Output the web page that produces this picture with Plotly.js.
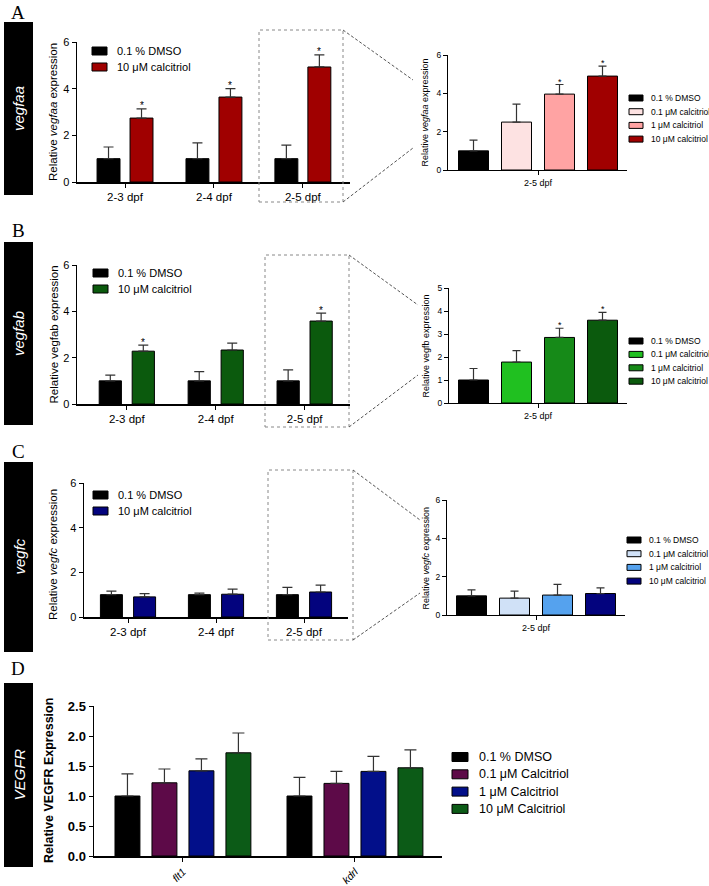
<!DOCTYPE html>
<html>
<head>
<meta charset="utf-8">
<script src="https://cdn.plot.ly/plotly-3.0.1.min.js"></script>
<style>
  html, body { margin: 0; padding: 0; background: #fff; }
  #myDiv { width: 709px; height: 886px; }
</style>
</head>
<body>
<div id="myDiv"></div>
<script>
// Datos del grafico
var dayLabels = ['2-3 dpf', '2-4 dpf', '2-5 dpf'];
var zoomLabels = ['2-5 dpf'];
var receptorLabels = ['<i>flt1</i>', '<i>kdrl</i>'];

var twoNames = ['0.1 % DMSO', '10 μM calcitriol'];
var doseNames = ['0.1 % DMSO', '0.1 μM calcitriol', '1 μM calcitriol', '10 μM calcitriol'];
var doseNamesD = ['0.1 % DMSO', '0.1 μM Calcitriol', '1 μM Calcitriol', '10 μM Calcitriol'];

// A - vegfaa
var vegfaaDmso = [1, 1, 1];
var vegfaaDmsoErr = [0.5, 0.68, 0.58];
var vegfaaCalc = [2.74, 3.64, 4.93];
var vegfaaCalcErr = [0.39, 0.36, 0.52];
var vegfaaCalcSig = [1, 1, 1];
var vegfaaDose = [1, 2.5, 3.96, 4.9];
var vegfaaDoseErr = [0.56, 0.94, 0.5, 0.52];
var vegfaaDoseSig = [0, 0, 1, 1];

// B - vegfab
var vegfabDmso = [1, 1, 1];
var vegfabDmsoErr = [0.25, 0.4, 0.47];
var vegfabCalc = [2.28, 2.33, 3.58];
var vegfabCalcErr = [0.26, 0.3, 0.34];
var vegfabCalcSig = [1, 0, 1];
var vegfbDose = [1, 1.78, 2.85, 3.6];
var vegfbDoseErr = [0.5, 0.5, 0.4, 0.34];
var vegfbDoseSig = [0, 0, 1, 1];

// C - vegfc
var vegfcDmso = [1, 1, 1];
var vegfcDmsoErr = [0.16, 0.07, 0.33];
var vegfcCalc = [0.9, 1.02, 1.12];
var vegfcCalcErr = [0.15, 0.23, 0.31];
var vegfcCalcSig = [0, 0, 0];
var vegfcDose = [1, 0.88, 1.04, 1.12];
var vegfcDoseErr = [0.31, 0.37, 0.56, 0.3];
var vegfcDoseSig = [0, 0, 0, 0];

// D - VEGFR (flt1, kdrl)
var vegfrDmso = [1, 1];
var vegfrDmsoErr = [0.37, 0.31];
var vegfr01 = [1.22, 1.21];
var vegfr01Err = [0.23, 0.2];
var vegfr1 = [1.42, 1.41];
var vegfr1Err = [0.2, 0.25];
var vegfr10 = [1.72, 1.47];
var vegfr10Err = [0.33, 0.3];

// Colores
var redCols = ['#000000', '#fde2e2', '#ffa3a3', '#a00000'];
var greenCols = ['#000000', '#20c020', '#168a18', '#0b5a0d'];
var blueCols = ['#000000', '#d0e1f7', '#55a2ee', '#03037e'];
var dCols = ['#000000', '#5d0a48', '#020f8a', '#0c5b17'];

var W = 709, H = 886;
var FONT = 'Liberation Sans, Arial, sans-serif';
function px(x) { return x / W; }
function py(y) { return 1 - y / H; }

var data = [];
var layout = {
    width: W,
    height: H,
    margin: { l: 0, r: 0, t: 0, b: 0 },
    paper_bgcolor: '#ffffff',
    plot_bgcolor: 'rgba(0,0,0,0)',
    showlegend: false,
    barmode: 'overlay',
    font: { family: FONT, color: '#000' },
    shapes: [],
    annotations: []
};

///////////////////////
// FUNCIONES DE PLOT //
///////////////////////

function makeAxes(p) {
    layout['xaxis' + p.id] = {
        domain: [px(p.x0), px(p.x1)],
        range: p.xr,
        anchor: 'y' + p.id,
        tickmode: 'array',
        tickvals: p.ticks.map(function (t, i) { return i; }),
        ticktext: p.ticks,
        tickangle: p.tickangle || 0,
        ticks: 'outside', ticklen: 4, tickwidth: 1, tickcolor: '#000',
        showline: true, linecolor: '#000', linewidth: p.lw,
        showgrid: false, zeroline: false, fixedrange: true,
        tickfont: { size: p.xfont, family: FONT, color: '#000' }
    };
    layout['yaxis' + p.id] = {
        domain: [py(p.y1), py(p.y0)],
        range: [0, p.ymax],
        anchor: 'x' + p.id,
        dtick: p.dtick,
        tickformat: p.tickformat || '',
        ticks: 'outside', ticklen: 4, tickwidth: 1, tickcolor: '#000',
        showline: true, linecolor: '#000', linewidth: p.lw,
        showgrid: false, zeroline: false, fixedrange: true,
        tickfont: { size: p.yfont, family: FONT, color: '#000', weight: p.bold ? 'bold' : 'normal' }
    };
    layout.annotations.push({
        xref: 'paper', yref: 'paper',
        x: px(p.titleX), y: py((p.y0 + p.y1) / 2 + (p.titleDy || 0)),
        text: p.title, textangle: -90, showarrow: false,
        xanchor: 'center', yanchor: 'middle',
        font: { size: p.titleSize, family: FONT, color: '#000', weight: p.bold ? 'bold' : 'normal' }
    });
}

function makeBars(p, series) {
    var n = series.length;
    series.forEach(function (s, j) {
        var off = (j - n / 2) * p.slot + (p.slot - p.barw) / 2;
        var xs = s.y.map(function (v, i) { return i; });
        data.push({
            type: 'bar',
            name: s.name,
            x: xs,
            y: s.y,
            offset: off,
            width: p.barw,
            xaxis: 'x' + p.id,
            yaxis: 'y' + p.id,
            marker: { color: s.color, line: { color: '#000', width: 1 } },
            error_y: {
                type: 'data', symmetric: false, array: s.err,
                arrayminus: s.err.map(function () { return 0; }),
                color: '#333', thickness: 1.2, width: p.errW
            },
            hoverinfo: 'skip'
        });
        if (s.sig) {
            s.sig.forEach(function (f, i) {
                if (!f) return;
                layout.annotations.push({
                    xref: 'x' + p.id, yref: 'y' + p.id,
                    x: i + off + p.barw / 2, y: s.y[i] + s.err[i],
                    text: '*', showarrow: false,
                    xanchor: 'center', yanchor: 'middle', yshift: p.starShift,
                    font: { size: p.starSize, family: FONT, color: '#000' }
                });
            });
        }
    });
    // leyenda manual
    var L = p.legend;
    series.forEach(function (s, j) {
        var yc = L.y + j * L.step;
        layout.shapes.push({
            type: 'rect', xref: 'paper', yref: 'paper',
            x0: px(L.x), x1: px(L.x + L.w), y0: py(yc - L.h / 2), y1: py(yc + L.h / 2),
            fillcolor: s.color, line: { color: '#000', width: 1 }
        });
        layout.annotations.push({
            xref: 'paper', yref: 'paper', x: px(L.tx), y: py(yc),
            text: s.name, showarrow: false, xanchor: 'left', yanchor: 'middle',
            font: { size: L.size, family: FONT, color: '#000' }
        });
    });
}

function sideLabel(letter, ly, text, r0, r1, size) {
    layout.shapes.push({
        type: 'rect', xref: 'paper', yref: 'paper',
        x0: px(4), x1: px(33), y0: py(r1), y1: py(r0),
        fillcolor: '#000', line: { width: 0 }
    });
    layout.annotations.push({
        xref: 'paper', yref: 'paper', x: px(18.5), y: py((r0 + r1) / 2),
        text: '<i>' + text + '</i>', textangle: -90, showarrow: false,
        xanchor: 'center', yanchor: 'middle',
        font: { size: size, family: FONT, color: '#fff' }
    });
    layout.annotations.push({
        xref: 'paper', yref: 'paper', x: px(18), y: py(ly),
        text: letter, showarrow: false, xanchor: 'center', yanchor: 'middle',
        font: { size: 19, family: 'Liberation Serif, Times New Roman, serif', color: '#000' }
    });
}

function zoomBox(x0, y0, x1, y1, ux, uy, lx, ly) {
    layout.shapes.push({
        type: 'rect', xref: 'paper', yref: 'paper',
        x0: px(x0), x1: px(x1), y0: py(y1), y1: py(y0),
        line: { color: '#888', width: 1, dash: 'dot' }
    });
    layout.shapes.push({
        type: 'line', xref: 'paper', yref: 'paper',
        x0: px(x1), y0: py(y0), x1: px(ux), y1: py(uy),
        line: { color: '#555', width: 1, dash: '3px,2px' }
    });
    layout.shapes.push({
        type: 'line', xref: 'paper', yref: 'paper',
        x0: px(x1), y0: py(y1), x1: px(lx), y1: py(ly),
        line: { color: '#555', width: 1, dash: '3px,2px' }
    });
}

// Paneles de la izquierda (3 dias) y derecha (2-5 dpf)
function leftPanel(id, y0, y1, x0, x1, xr, title, legY, legX, slot, barw) {
    return {
        id: id, x0: x0, x1: x1, y0: y0, y1: y1, xr: xr, ymax: 6, dtick: 2,
        ticks: dayLabels, slot: slot, barw: barw, lw: 1.5, errW: 5,
        xfont: 11.5, yfont: 11, title: title, titleX: 53, titleSize: 11.5,
        starShift: 3, starSize: 10,
        legend: { x: legX, w: 15, h: 8, tx: legX + 23, y: legY, step: 16, size: 11 }
    };
}
function rightPanel(id, y0, y1, x0, x1, xr, ymax, dtick, title, legY, legX, step) {
    return {
        id: id, x0: x0, x1: x1, y0: y0, y1: y1, xr: xr, ymax: ymax, dtick: dtick,
        ticks: zoomLabels, slot: 0.43, barw: 0.30, lw: 1, errW: 4,
        xfont: 9, yfont: 8.5, title: title, titleX: 425, titleSize: 9,
        starShift: 3, starSize: 9,
        legend: { x: legX, w: 14, h: 6, tx: legX + 20, y: legY, step: step, size: 8.5 }
    };
}

function series2(names, cols, a, ae, b, be, bsig) {
    return [
        { name: names[0], color: cols[0], y: a, err: ae },
        { name: names[1], color: cols[3], y: b, err: be, sig: bsig }
    ];
}
function series4(names, cols, ys, es, sig) {
    return names.map(function (n, i) {
        return { name: n, color: cols[i], y: [ys[i]], err: [es[i]], sig: [sig[i]] };
    });
}

// A
var pA = leftPanel('', 42, 182, 77, 350, [-0.54, 2.53], 'Relative <i>vegfaa</i> expression', 51, 92, 0.371, 0.258);
makeAxes(pA);
makeBars(pA, series2(twoNames, redCols, vegfaaDmso, vegfaaDmsoErr, vegfaaCalc, vegfaaCalcErr, vegfaaCalcSig));
var pA2 = rightPanel('2', 55, 170, 448, 627, [-0.9, 0.89], 6, 2, 'Relative <i>vegfaa</i> expression', 98, 629, 13.7);
makeAxes(pA2);
makeBars(pA2, series4(doseNames, redCols, vegfaaDose, vegfaaDoseErr, vegfaaDoseSig));

// B
var pB = leftPanel('3', 265, 404, 77, 350, [-0.56, 2.51], 'Relative vegfab expression', 273, 93, 0.371, 0.25);
makeAxes(pB);
makeBars(pB, series2(twoNames, greenCols, vegfabDmso, vegfabDmsoErr, vegfabCalc, vegfabCalcErr, vegfabCalcSig));
var pB2 = rightPanel('4', 288, 403, 449, 627, [-0.89, 0.89], 5, 1, 'Relative vegfb expression', 341, 629, 13.4);
makeAxes(pB2);
makeBars(pB2, series4(doseNames, greenCols, vegfbDose, vegfbDoseErr, vegfbDoseSig));

// C
var pC = leftPanel('5', 483, 617, 84, 348, [-0.5, 2.5], 'Relative <i>vegfc</i> expression', 495, 93, 0.377, 0.25);
pC.titleDy = 4;
makeAxes(pC);
makeBars(pC, series2(twoNames, blueCols, vegfcDmso, vegfcDmsoErr, vegfcCalc, vegfcCalcErr, vegfcCalcSig));
var pC2 = rightPanel('6', 500, 615, 447, 625, [-0.89, 0.89], 6, 2, 'Relative <i>vegfc</i> expression', 540, 627, 13.7);
makeAxes(pC2);
makeBars(pC2, series4(doseNames, blueCols, vegfcDose, vegfcDoseErr, vegfcDoseSig));

// D
var pD = {
    id: '7', x0: 94, x1: 442, y0: 706, y1: 856, xr: [-0.517, 1.506], ymax: 2.5, dtick: 0.5,
    tickformat: '.1f', ticks: receptorLabels, tickangle: -45, slot: 0.215, barw: 0.145,
    lw: 1.5, errW: 6, xfont: 10.5, yfont: 13, bold: true,
    title: 'Relative VEGFR Expression', titleX: 49, titleSize: 12.5,
    starShift: 3, starSize: 10,
    legend: { x: 452, w: 16, h: 9, tx: 477, y: 757, step: 17.3, size: 12.5 }
};
makeAxes(pD);
makeBars(pD, [
    { name: doseNamesD[0], color: dCols[0], y: vegfrDmso, err: vegfrDmsoErr },
    { name: doseNamesD[1], color: dCols[1], y: vegfr01, err: vegfr01Err },
    { name: doseNamesD[2], color: dCols[2], y: vegfr1, err: vegfr1Err },
    { name: doseNamesD[3], color: dCols[3], y: vegfr10, err: vegfr10Err }
]);

// Etiquetas laterales y recuadros de zoom
sideLabel('A', 12, 'vegfaa', 22, 195, 15);
sideLabel('B', 230, 'vegfab', 242, 425, 15);
sideLabel('C', 451, 'vegfc', 462, 652, 15);
sideLabel('D', 668, 'VEGFR', 683, 867, 15);

zoomBox(259, 30, 343, 202, 413, 80, 413, 148);
zoomBox(265, 255, 349, 427, 418, 305, 418, 375);
zoomBox(268, 470, 353, 640, 420, 520, 420, 593);

Plotly.newPlot('myDiv', data, layout, { staticPlot: true, responsive: false });
</script>
</body>
</html>
